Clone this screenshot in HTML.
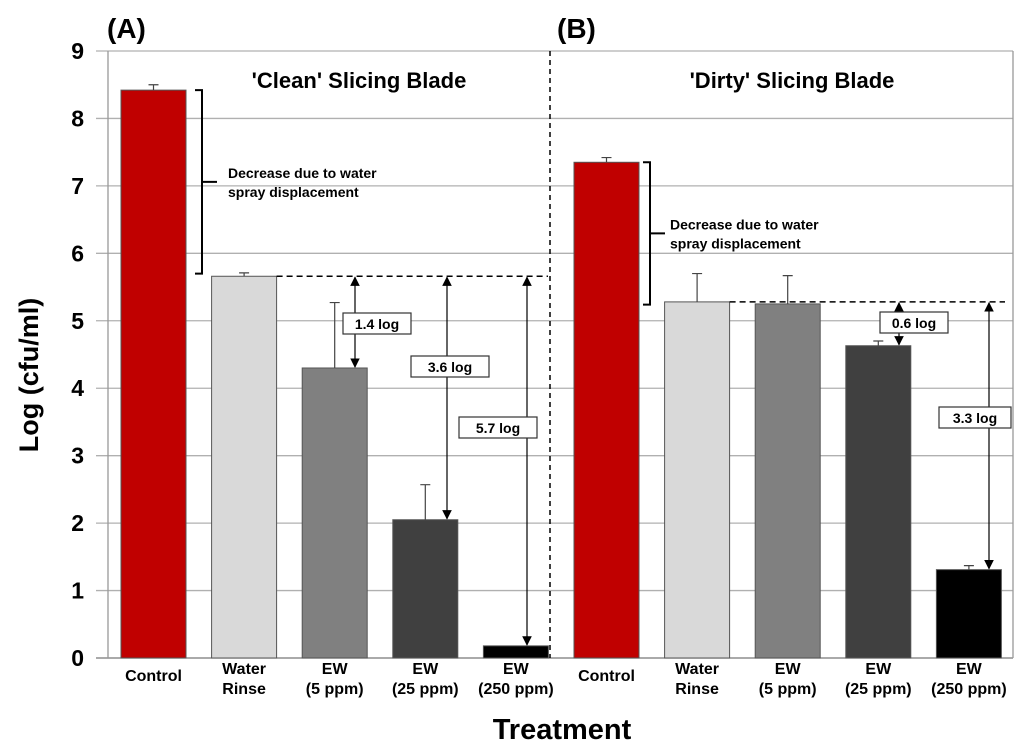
<!DOCTYPE html>
<html><head><meta charset="utf-8"><style>
html,body{margin:0;padding:0;background:#fff;}
svg{display:block;font-family:"Liberation Sans",Arial,sans-serif;}
</style></head><body>
<svg id="chart" width="1024" height="750" viewBox="0 0 1024 750">
<defs>
<marker id="ah" viewBox="0 0 10 10" refX="9" refY="5" markerWidth="8" markerHeight="8" orient="auto-start-reverse"><path d="M0,0 L10,5 L0,10 z" fill="#000"/></marker>
</defs>
<g id="grid"></g>
<g id="bars"></g>
<g id="annot"></g>
<text x="107" y="38" font-size="28" font-weight="bold">(A)</text>
<text x="557" y="38" font-size="28" font-weight="bold">(B)</text>
<text x="359" y="88" font-size="22" font-weight="bold" text-anchor="middle">'Clean' Slicing Blade</text>
<text x="792" y="88" font-size="22" font-weight="bold" text-anchor="middle">'Dirty' Slicing Blade</text>
<text transform="translate(38,375) rotate(-90)" font-size="27" font-weight="bold" text-anchor="middle">Log (cfu/ml)</text>
<text x="562" y="739" font-size="29" font-weight="bold" text-anchor="middle">Treatment</text>
</svg>
<script>
const categories = ["Control","Water|Rinse","EW|(5 ppm)","EW|(25 ppm)","EW|(250 ppm)"];
const cleanValues = [8.42, 5.66, 4.30, 2.05, 0.18];
const cleanErrors = [0.08, 0.05, 0.97, 0.52, 0.0];
const dirtyValues = [7.35, 5.28, 5.25, 4.63, 1.31];
const dirtyErrors = [0.07, 0.42, 0.42, 0.07, 0.06];
const yTicks = [0,1,2,3,4,5,6,7,8,9];
const colors = ["#c00000","#d9d9d9","#808080","#404040","#000000"];

const NS="http://www.w3.org/2000/svg";
const X0=108, X1=1013, Y0=658, Y9=51;
const y = v => Y0 - v*(Y0-Y9)/9;
const barX = i => 121 + i*90.6;
const BW=65;
function mk(tag, attrs, parent){const e=document.createElementNS(NS,tag);for(const k in attrs)e.setAttribute(k,attrs[k]);parent.appendChild(e);return e;}
const grid=document.getElementById('grid'), bars=document.getElementById('bars'), ann=document.getElementById('annot');

yTicks.forEach(t=>{
  const l=mk('line',{x1:X0-12,x2:X1,y1:y(t),y2:y(t),stroke:t===0?'#777':'#b0b0b0','stroke-width':1.3},grid);
  
  
  const tx=mk('text',{x:84,y:y(t)+8,'font-size':23,'font-weight':'bold','text-anchor':'end'},grid);
  tx.textContent=t;
  
  
});
const ax=mk('line',{x1:X0,x2:X0,y1:Y9,y2:Y0,stroke:'#999','stroke-width':1.3},grid);


const rb=mk('line',{x1:X1,x2:X1,y1:Y9,y2:Y0,stroke:'#999','stroke-width':1.3},grid);



function drawPanel(vals, errs, off, pfx){
  vals.forEach((v,i)=>{
    const x=barX(i+off);
    const r=mk('rect',{x:x,y:y(v),width:BW,height:Y0-y(v),fill:colors[i],stroke:'#555','stroke-width':1},bars);
    
    
    if(errs[i]>0){
      const cx=x+BW/2;
      const e=mk('path',{d:`M${cx},${y(v)} V${y(v+errs[i])} M${cx-5},${y(v+errs[i])} H${cx+5}`,stroke:'#444','stroke-width':1.2,fill:'none'},bars);
      
      
    }
    const lines=categories[i].split('|');
    lines.forEach((s,k)=>{
      const t=mk('text',{x:x+BW/2,y:(lines.length===1?681:674+k*20),'font-size':16,'font-weight':'bold','text-anchor':'middle'},bars);
      t.textContent=s;
      
      
    });
  });
}
drawPanel(cleanValues, cleanErrors, 0, 'clean');
drawPanel(dirtyValues, dirtyErrors, 5, 'dirty');

const div=mk('line',{x1:550,x2:550,y1:Y9,y2:Y0,stroke:'#000','stroke-width':1.5,'stroke-dasharray':'5,4'},ann);



function bracket(bx, vTop, vBot, tx, pfx){
  const t=y(vTop), b=y(vBot), m=(t+b)/2;
  const p=mk('path',{d:`M${bx},${t} H${bx+7} V${b} H${bx} M${bx+7},${m} H${bx+22}`,stroke:'#000','stroke-width':2,fill:'none'},ann);
  
  
  ['Decrease due to water','spray displacement'].forEach((s,k)=>{
    const e=mk('text',{x:tx,y:m-4+k*19,'font-size':14,'font-weight':'bold'},ann);
    e.textContent=s;
    
    
  });
}
bracket(195, cleanValues[0], cleanValues[1]+0.04, 228, 'clean');
bracket(643, dirtyValues[0], dirtyValues[1]-0.04, 670, 'dirty');

function dashed(x1,x2,v,name){
  const l=mk('line',{x1:x1,x2:x2,y1:y(v),y2:y(v),stroke:'#000','stroke-width':1.5,'stroke-dasharray':'6,4'},ann);
  
  
}
dashed(barX(1)+BW, 548, cleanValues[1], 'clean-reference-line');
dashed(barX(6)+BW, 1005, dirtyValues[1], 'dirty-reference-line');

function arrow(x, vTop, vBot, label, bx, by, bw, name){
  const l=mk('line',{x1:x,x2:x,y1:y(vTop)+1,y2:y(vBot)-1,stroke:'#000','stroke-width':1.2,'marker-start':'url(#ah)','marker-end':'url(#ah)'},ann);
  
  
  const r=mk('rect',{x:bx,y:by,width:bw,height:21,fill:'#fff',stroke:'#333','stroke-width':1.2},ann);
  
  
  const t=mk('text',{x:bx+bw/2,y:by+16,'font-size':14,'font-weight':'bold','text-anchor':'middle'},ann);
  t.textContent=label;
  
  
}
arrow(355, cleanValues[1], cleanValues[2], '1.4 log', 343, 313, 68, 'clean-ew5-reduction');
arrow(447, cleanValues[1], cleanValues[3], '3.6 log', 411, 356, 78, 'clean-ew25-reduction');
arrow(527, cleanValues[1], cleanValues[4], '5.7 log', 459, 417, 78, 'clean-ew250-reduction');
arrow(899, dirtyValues[1], dirtyValues[3], '0.6 log', 880, 312, 68, 'dirty-ew25-reduction');
arrow(989, dirtyValues[1], dirtyValues[4], '3.3 log', 939, 407, 72, 'dirty-ew250-reduction');
</script>
</body></html>
